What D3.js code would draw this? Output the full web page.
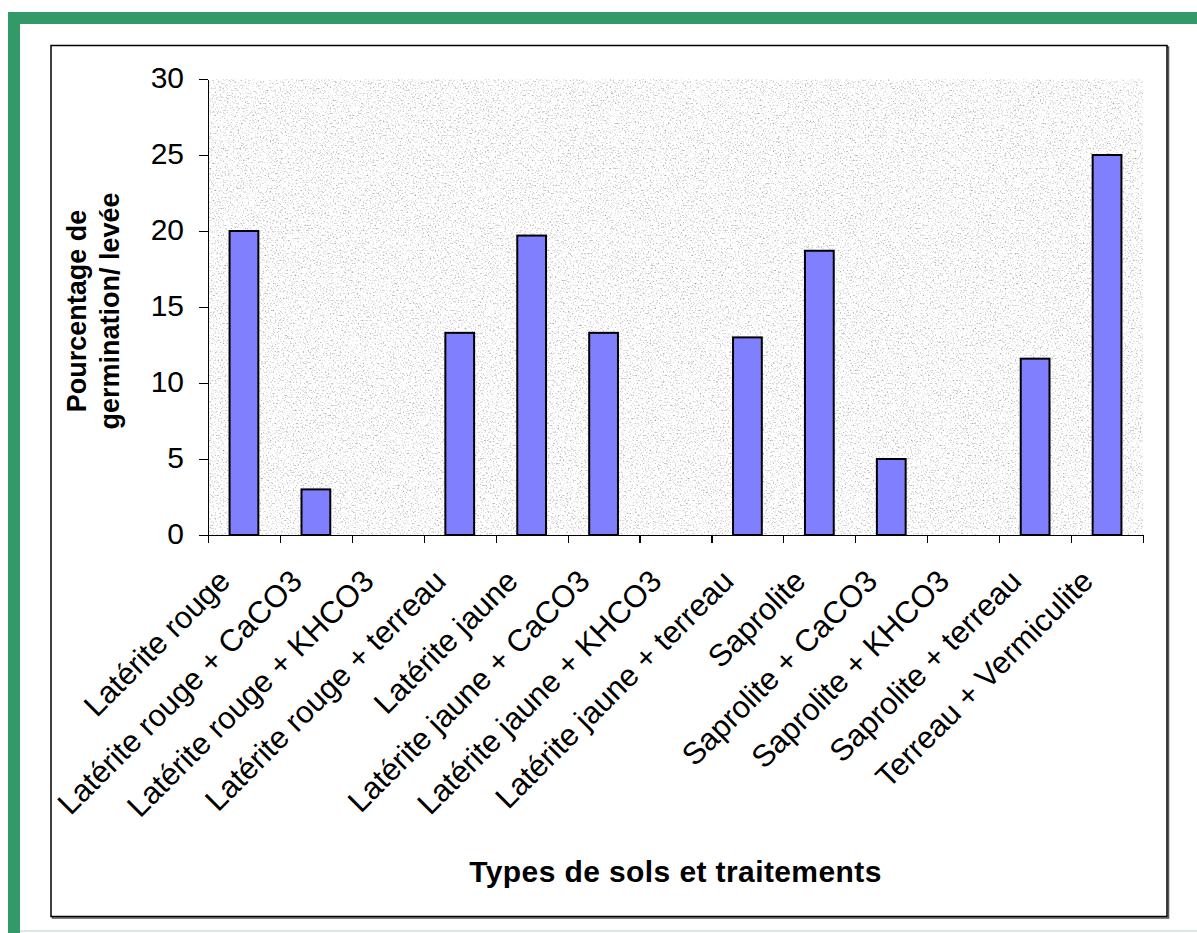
<!DOCTYPE html>
<html>
<head>
<meta charset="utf-8">
<title>Pourcentage de germination/ levée</title>
<style>
  body { margin: 0; background: #fff; }
  svg { display: block; font-family: "Liberation Sans", Arial, sans-serif; }
  .axis path, .axis line { stroke: #000; stroke-width: 1.2px; shape-rendering: crispEdges; }
  .axis text { fill: #000; }
</style>
</head>
<body>
<div id="chart"></div>
<script src="https://d3js.org/d3.v7.min.js"></script>
<script>

// data
var categories = ["Latérite rouge", "Latérite rouge + CaCO3", "Latérite rouge + KHCO3",
    "Latérite rouge + terreau", "Latérite jaune", "Latérite jaune + CaCO3",
    "Latérite jaune + KHCO3", "Latérite jaune + terreau", "Saprolite",
    "Saprolite + CaCO3", "Saprolite + KHCO3", "Saprolite + terreau",
    "Terreau + Vermiculite"];
var values = [20, 3, 0, 13.3, 19.7, 13.3, 0, 13, 18.7, 5, 0, 11.6, 25];
var yTicks = [0, 5, 10, 15, 20, 25, 30];

var W = 1197, H = 933;
var plot = {left: 208, right: 1143, top: 79, bottom: 535};

var svg = d3.select("#chart").append("svg")
    .attr("width", W)
    .attr("height", H);

// green page border (top + left) and faint line at the bottom
svg.append("rect").attr("x", 8).attr("y", 12).attr("width", W - 8).attr("height", 12).attr("fill", "#339966");
svg.append("rect").attr("x", 8).attr("y", 12).attr("width", 12).attr("height", H - 12).attr("fill", "#339966");
svg.append("rect").attr("x", 20).attr("y", 930).attr("width", W - 20).attr("height", 2).attr("fill", "#d3ebe3");

// chart frame with a little shadow
svg.append("rect").attr("x", 52.5).attr("y", 47).attr("width", 1116).attr("height", 871)
    .attr("fill", "none").attr("stroke", "#555").attr("stroke-width", 1.5);
svg.append("rect").attr("x", 51).attr("y", 45.5).attr("width", 1116).attr("height", 871)
    .attr("fill", "#fff").attr("stroke", "#000").attr("stroke-width", 1.5);

// granite-ish texture for the plot area
var defs = svg.append("defs");
var f = defs.append("filter").attr("id", "grain")
    .attr("x", 0).attr("y", 0).attr("width", 1).attr("height", 1)
    .attr("color-interpolation-filters", "sRGB");
f.append("feTurbulence").attr("type", "fractalNoise").attr("baseFrequency", 0.6)
    .attr("numOctaves", 2).attr("seed", 7).attr("result", "n");
f.append("feColorMatrix").attr("type", "matrix")
    .attr("values", "1.0 0 0 0 0.53  1.0 0 0 0 0.53  1.0 0 0 0 0.53  0 0 0 0 1");

svg.append("rect")
    .attr("x", plot.left).attr("y", plot.top)
    .attr("width", plot.right - plot.left).attr("height", plot.bottom - plot.top)
    .attr("fill", "#e8e8e8")
    .attr("filter", "url(#grain)");

var x = d3.scaleBand().domain(categories).range([plot.left, plot.right]);
var xi = d3.scaleLinear().domain([0, categories.length]).range([plot.left, plot.right]);
var y = d3.scaleLinear().domain([0, 30]).range([plot.bottom, plot.top]);

var barW = x.bandwidth() / 2.5;

svg.append("g")
    .selectAll("rect")
    .data(categories.map(function(c, i) { return {c: c, v: values[i]}; }).filter(function(d) { return d.v > 0; }))
    .join("rect")
    .attr("x", function(d) { return x(d.c) + (x.bandwidth() - barW) / 2; })
    .attr("y", function(d) { return y(d.v); })
    .attr("width", barW)
    .attr("height", function(d) { return y(0) - y(d.v); })
    .attr("fill", "#8080ff")
    .attr("stroke", "#000")
    .attr("stroke-width", 2);

// y axis
var yAxis = svg.append("g")
    .attr("class", "axis")
    .attr("transform", "translate(" + plot.left + ",0)")
    .call(d3.axisLeft(y).tickValues(yTicks).tickSize(9).tickSizeOuter(0).tickPadding(15));
yAxis.selectAll("text").attr("font-size", 30).attr("dy", "0.28em");

// x axis: ticks between categories
svg.append("g")
    .attr("class", "axis")
    .attr("transform", "translate(0," + plot.bottom + ")")
    .call(d3.axisBottom(xi).tickValues(d3.range(categories.length + 1)).tickFormat("").tickSize(8).tickSizeOuter(0));

svg.append("g")
    .selectAll("text")
    .data(categories)
    .join("text")
    .attr("transform", function(d) { return "translate(" + (x(d) + x.bandwidth() / 2 - 12) + ",583) rotate(-45)"; })
    .attr("text-anchor", "end")
    .attr("font-size", 31)
    .text(function(d) { return d; });

// axis titles
svg.append("text")
    .attr("x", (plot.left + plot.right) / 2)
    .attr("y", 882)
    .attr("text-anchor", "middle")
    .attr("font-size", 30)
    .attr("font-weight", "bold")
    .attr("letter-spacing", 0.4)
    .text("Types de sols et traitements");

var yt = svg.append("text")
    .attr("transform", "translate(0," + ((plot.top + plot.bottom) / 2 + 4) + ") rotate(-90)")
    .attr("text-anchor", "middle")
    .attr("font-size", 27)
    .attr("font-weight", "bold");
yt.append("tspan").attr("x", 0).attr("y", 86).text("Pourcentage de");
yt.append("tspan").attr("x", 0).attr("y", 119).text("germination/ levée");

</script>
</body>
</html>
